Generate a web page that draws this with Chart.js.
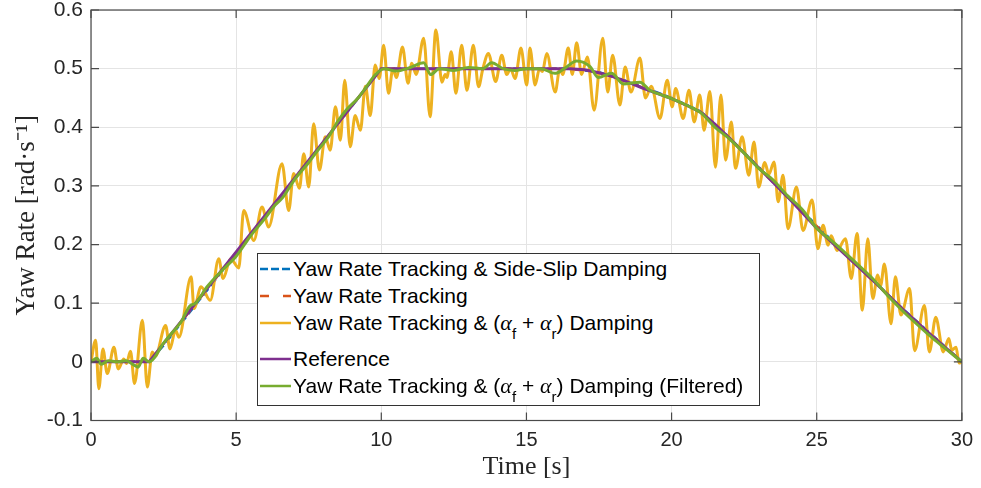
<!DOCTYPE html>
<html>
<head>
<meta charset="utf-8">
<script src="https://cdn.jsdelivr.net/npm/chart.js@4.4.1/dist/chart.umd.min.js"></script>
<style>
    html, body { margin: 0; padding: 0; background: #fff; }
    #wrap { position: relative; width: 981px; height: 488px; }
    canvas { display: block; }
    #legend {
        position: absolute; left: 257px; top: 253px; width: 503px; height: 153px;
        box-sizing: border-box; border: 1px solid #333; background: #fff;
        font-family: 'Liberation Sans', Arial, sans-serif; font-size: 21px; color: #000;
    }
    #legend .row { position: absolute; left: 0; height: 24px; line-height: 24px; white-space: nowrap; }
    #legend .txt { position: absolute; left: 35px; top: 0; }
    #legend svg { position: absolute; left: 0; top: 0; }
    .al { font-family: 'Liberation Serif', serif; font-style: italic; font-size: 22px; }
    .sb { font-size: 15px; vertical-align: -9px; }
</style>
</head>
<body>
<div id="wrap">
    <canvas id="yawChart" width="981" height="488"></canvas>
    <div id="legend"></div>
</div>
<script>
// axis ticks
const xTicks = [0, 5, 10, 15, 20, 25, 30];
const yTicks = [-0.1, 0, 0.1, 0.2, 0.3, 0.4, 0.5, 0.6];
const yTickLabels = ['-0.1', '0', '0.1', '0.2', '0.3', '0.4', '0.5', '0.6'];

// series names
const seriesNames = [
    'Yaw Rate Tracking & Side-Slip Damping',
    'Yaw Rate Tracking',
    'Yaw Rate Tracking & (αf + αr) Damping',
    'Reference',
    'Yaw Rate Tracking & (αf + αr) Damping (Filtered)'
];

// [time, yaw rate]
const refPts = [[0, 0], [2, 0], [10, 0.5], [16.5, 0.5], [17, 0.498], [17.5, 0.493], [18, 0.486], [18.5, 0.477],
    [19, 0.467], [19.5, 0.458], [20, 0.449], [20.5, 0.438], [21, 0.426], [21.5, 0.405], [22, 0.381], [23, 0.331],
    [24, 0.281], [25, 0.228], [26, 0.182], [27, 0.136], [28, 0.088], [29, 0.043], [30, 0]];

const sideSlipPts = [[0, 0], [2, 0], [2.5, 0.028], [6, 0.248], [10, 0.5], [16.5, 0.5], [17.5, 0.494], [18.5, 0.478],
    [20, 0.45], [21, 0.427], [22, 0.382], [24, 0.282], [26, 0.183], [28, 0.089], [30, 0]];

const trackingPts = [[0, 0], [2, 0], [2.5, 0.03], [6, 0.249], [10, 0.5], [16.5, 0.5], [17.5, 0.493], [18.5, 0.477],
    [20, 0.449], [21, 0.426], [22, 0.381], [24, 0.281], [26, 0.182], [28, 0.088], [30, 0]];

const dampingPts = [[0, 0], [0.16, 0.037], [0.27, -0.046], [0.41, 0.022], [0.56, -0.020], [0.79, 0.025], [0.94, -0.012],
    [1.13, 0.005], [1.22, -0.003], [1.36, 0.018], [1.50, -0.037], [1.77, 0.071], [1.94, -0.043], [2.11, 0.017],
    [2.22, 0.01], [2.57, 0.062], [2.72, 0.022], [2.91, 0.054], [3.03, 0.042], [3.45, 0.145], [3.55, 0.091],
    [3.79, 0.128], [4.11, 0.105], [4.40, 0.176], [4.55, 0.142], [4.81, 0.176], [5.09, 0.160], [5.26, 0.258],
    [5.61, 0.207], [5.89, 0.264], [6.12, 0.230], [6.58, 0.338], [6.81, 0.258], [6.98, 0.321], [7.18, 0.296],
    [7.33, 0.355], [7.50, 0.298], [7.67, 0.406], [7.87, 0.327], [8.07, 0.384], [8.24, 0.361], [8.42, 0.435],
    [8.59, 0.378], [8.74, 0.480], [8.93, 0.367], [9.10, 0.420], [9.28, 0.395], [9.45, 0.47], [9.62, 0.42],
    [9.79, 0.506], [9.93, 0.483], [10.08, 0.540], [10.25, 0.458], [10.40, 0.50], [10.52, 0.485], [10.73, 0.537],
    [10.92, 0.475], [11.05, 0.509], [11.2, 0.49], [11.46, 0.552], [11.68, 0.418], [11.88, 0.566], [12.09, 0.477],
    [12.2, 0.49], [12.26, 0.485], [12.41, 0.529], [12.57, 0.458], [12.77, 0.540], [12.95, 0.463], [13.17, 0.540],
    [13.35, 0.469], [13.5, 0.5], [13.69, 0.526], [13.94, 0.478], [14.15, 0.523], [14.32, 0.49], [14.45, 0.5],
    [14.61, 0.483], [14.81, 0.535], [15.01, 0.472], [15.12, 0.535], [15.30, 0.472], [15.45, 0.5], [15.55, 0.495],
    [15.70, 0.526], [15.99, 0.460], [16.15, 0.5], [16.25, 0.49], [16.44, 0.535], [16.58, 0.49], [16.73, 0.544],
    [16.9, 0.49], [17.1, 0.52], [17.33, 0.429], [17.63, 0.552], [17.8, 0.46], [17.97, 0.523], [18.22, 0.438],
    [18.40, 0.503], [18.6, 0.46], [18.91, 0.518], [19.1, 0.45], [19.3, 0.47], [19.6, 0.415], [19.85, 0.480],
    [20.02, 0.435], [20.14, 0.466], [20.40, 0.415], [20.6, 0.463], [20.78, 0.409], [20.97, 0.455], [21.12, 0.395],
    [21.32, 0.461], [21.51, 0.332], [21.70, 0.455], [21.86, 0.344], [22.06, 0.409], [22.20, 0.330], [22.43, 0.384],
    [22.66, 0.318], [22.84, 0.375], [23.0, 0.298], [23.21, 0.34], [23.35, 0.32], [23.53, 0.341], [23.67, 0.273],
    [23.84, 0.318], [24.01, 0.227], [24.3, 0.298], [24.53, 0.224], [24.84, 0.276], [25.04, 0.193], [25.22, 0.233],
    [25.39, 0.199], [25.5, 0.215], [25.7, 0.19], [25.99, 0.210], [26.19, 0.142], [26.39, 0.219], [26.57, 0.088],
    [26.76, 0.210], [26.93, 0.108], [27.1, 0.148], [27.2, 0.13], [27.33, 0.167], [27.56, 0.065], [27.71, 0.145],
    [27.9, 0.08], [28.2, 0.125], [28.37, 0.019], [28.71, 0.096], [28.88, 0.017], [29.1, 0.076], [29.36, 0.017],
    [29.55, 0.04], [29.65, 0.02], [29.8, 0.025], [29.9, -0.002], [30, 0]];

const filteredPts = [[0, 0], [0.2, 0.006], [0.35, -0.004], [0.6, 0.002], [0.9, 0], [1.2, 0.002], [1.5, -0.006],
    [1.62, -0.009], [1.8, 0.006], [2.0, 0], [2.5, 0.032], [2.8, 0.05], [3.1, 0.068], [3.4, 0.095], [3.6, 0.1],
    [4.0, 0.128], [4.5, 0.155], [5, 0.18], [5.5, 0.215], [6.0, 0.245], [6.3, 0.265], [6.6, 0.28], [7.0, 0.31],
    [7.5, 0.34], [7.8, 0.36], [8.2, 0.385], [8.5, 0.41], [8.8, 0.43], [9.2, 0.45], [9.5, 0.47], [9.8, 0.49],
    [10.1, 0.5], [10.5, 0.496], [11, 0.502], [11.46, 0.51], [11.7, 0.49], [12, 0.5], [12.5, 0.497], [13, 0.502],
    [13.5, 0.5], [13.8, 0.51], [14.2, 0.5], [14.6, 0.497], [15, 0.5], [15.5, 0.5], [15.98, 0.492], [16.3, 0.5],
    [16.73, 0.513], [17.2, 0.503], [17.47, 0.485], [17.93, 0.492], [18.34, 0.474], [18.91, 0.477], [19.25, 0.463],
    [19.6, 0.456], [20, 0.449], [20.5, 0.438], [21, 0.425], [21.5, 0.40], [22, 0.38], [22.5, 0.356], [23, 0.33],
    [23.5, 0.31], [24, 0.283], [24.5, 0.26], [25, 0.228], [25.5, 0.207], [26, 0.185], [26.5, 0.162], [27, 0.138],
    [27.5, 0.11], [28, 0.085], [28.5, 0.062], [29, 0.04], [29.5, 0.02], [30, 0]];

const colors = ['#0072BD', '#D95319', '#EDB120', '#7E2F8E', '#77AC30'];
const toXY = pts => pts.map(p => ({ x: p[0], y: p[1] }));

// Box round the plot with MATLAB style inward ticks
const framePlugin = {
    id: 'frame',
    afterDraw(chart) {
        const { ctx, chartArea: a, scales } = chart;
        const len = 8;
        ctx.save();
        ctx.strokeStyle = '#4a4a4a';
        ctx.lineWidth = 1.2;
        ctx.strokeRect(a.left, a.top, a.right - a.left, a.bottom - a.top);
        ctx.beginPath();
        xTicks.forEach(v => {
            const px = scales.x.getPixelForValue(v);
            ctx.moveTo(px, a.bottom); ctx.lineTo(px, a.bottom - len);
            ctx.moveTo(px, a.top); ctx.lineTo(px, a.top + len);
        });
        yTicks.forEach(v => {
            const py = scales.y.getPixelForValue(v);
            ctx.moveTo(a.left, py); ctx.lineTo(a.left + len, py);
            ctx.moveTo(a.right, py); ctx.lineTo(a.right - len, py);
        });
        ctx.stroke();
        ctx.restore();
    }
};

const ctx = document.getElementById('yawChart').getContext('2d');
new Chart(ctx, {
    type: 'line',
    data: {
        datasets: [
            { label: seriesNames[0], data: toXY(sideSlipPts), borderColor: colors[0], borderWidth: 2.5, borderDash: [8, 4], order: 5 },
            { label: seriesNames[1], data: toXY(trackingPts), borderColor: colors[1], borderWidth: 2.5, borderDash: [9, 14], order: 4 },
            { label: seriesNames[2], data: toXY(dampingPts), borderColor: colors[2], borderWidth: 3, cubicInterpolationMode: 'monotone', order: 3 },
            { label: seriesNames[3], data: toXY(refPts), borderColor: colors[3], borderWidth: 3, order: 2 },
            { label: seriesNames[4], data: toXY(filteredPts), borderColor: colors[4], borderWidth: 3, cubicInterpolationMode: 'monotone', order: 1 }
        ]
    },
    options: {
        responsive: false,
        animation: false,
        devicePixelRatio: 1,
        layout: { padding: { top: 10, right: 11, left: 0, bottom: 0 } },
        elements: { point: { radius: 0 }, line: { fill: false, borderCapStyle: 'butt' } },
        plugins: { legend: { display: false }, tooltip: { enabled: false } },
        scales: {
            x: {
                type: 'linear', min: 0, max: 30,
                afterBuildTicks: s => { s.ticks = xTicks.map(v => ({ value: v })); },
                afterFit: s => { s.height = 67.5; },
                grid: { color: '#e4e4e4', drawTicks: false },
                border: { display: false },
                ticks: { padding: 8, color: '#262626', maxRotation: 0,
                    font: { family: "'Liberation Sans', Arial", size: 20 },
                    callback: v => String(v) },
                title: { display: true, text: 'Time [s]', color: '#262626',
                    font: { family: "'Liberation Serif', serif", size: 26 }, padding: { top: 0, bottom: 5 } }
            },
            y: {
                type: 'linear', min: -0.1, max: 0.6,
                afterBuildTicks: s => { s.ticks = yTicks.map(v => ({ value: v })); },
                afterFit: s => { s.width = 91; s.paddingTop = 0; s.paddingBottom = 0; },
                grid: { color: '#e4e4e4', drawTicks: false },
                border: { display: false },
                ticks: { padding: 8, color: '#262626',
                    font: { family: "'Liberation Sans', Arial", size: 21 },
                    callback: (v, i) => yTickLabels[i] },
                title: { display: true, text: 'Yaw Rate [rad·s⁻¹]', color: '#262626',
                    font: { family: "'Liberation Serif', serif", size: 27 }, padding: { top: 11, bottom: 0 } }
            }
        }
    },
    plugins: [framePlugin]
});

// HTML legend (needs sub-scripted alpha)
const alpha = s => '<span class="al">α</span><span class="sb">' + s + '</span>';
const legendRows = [
    { top: 2.5, html: 'Yaw Rate Tracking &amp; Side-Slip Damping', dash: '8 3' },
    { top: 29.5, html: 'Yaw Rate Tracking', dash: '9 14' },
    { top: 56.5, html: 'Yaw Rate Tracking &amp; (' + alpha('f') + ' + ' + alpha('r') + ') Damping', dash: '' },
    { top: 92.5, html: 'Reference', dash: '' },
    { top: 119.5, html: 'Yaw Rate Tracking &amp; (' + alpha('f') + ' + ' + alpha('r') + ') Damping (Filtered)', dash: '' }
];
const legendEl = document.getElementById('legend');
legendRows.forEach((r, i) => {
    const row = document.createElement('div');
    row.className = 'row';
    row.style.top = r.top + 'px';
    row.style.width = '500px';
    row.innerHTML = '<svg width="34" height="24"><line x1="2" y1="12" x2="33" y2="12" stroke="' + colors[i] +
        '" stroke-width="2.5"' + (r.dash ? ' stroke-dasharray="' + r.dash + '"' : '') + '/></svg>' +
        '<span class="txt">' + r.html + '</span>';
    legendEl.appendChild(row);
});
</script>
</body>
</html>
